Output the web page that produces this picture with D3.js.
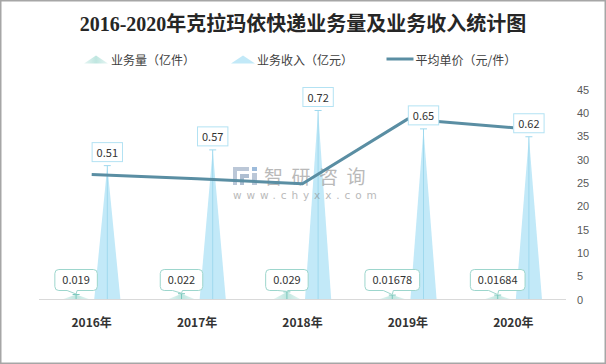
<!DOCTYPE html>
<html><head><meta charset="utf-8">
<script src="https://cdn.jsdelivr.net/npm/d3@7/dist/d3.min.js"></script>
<style>
html,body{margin:0;padding:0;background:#fff;}
svg{display:block;}
</style></head>
<body><svg id="c" width="606" height="364"></svg>
<script>
const categories = ["2016年","2017年","2018年","2019年","2020年"];
const volume = [0.019, 0.022, 0.029, 0.01678, 0.01684];      // 业务量（亿件）
const revenue = [0.51, 0.57, 0.72, 0.65, 0.62];              // 业务收入（亿元）
const unitPrice = [26.8, 25.9, 24.8, 38.7, 36.8];            // 平均单价（元/件）
const volumeLabels = ["0.019","0.022","0.029","0.01678","0.01684"];
const revenueLabels = ["0.51","0.57","0.72","0.65","0.62"];
const rightTicks = [0,5,10,15,20,25,30,35,40,45];
const seriesKeys = ["volume","revenue"];
const legendNames = ["业务量（亿件）","业务收入（亿元）","平均单价（元/件）"];
const title = "2016-2020年克拉玛依快递业务量及业务收入统计图";

const svg = d3.select("#c");
const W = 606, H = 364;
const FONT = "'Noto Sans CJK SC','Noto Sans',sans-serif";
const lineColor = "#5a8ea3";
const revColor = "#c2e9f8";

const defs = svg.append("defs");
const g1 = defs.append("linearGradient").attr("id","volGrad").attr("x1","0").attr("x2","1").attr("y1","0").attr("y2","0");
g1.append("stop").attr("offset","0%").attr("stop-color","#e6f5f3");
g1.append("stop").attr("offset","50%").attr("stop-color","#bfe6e0");
g1.append("stop").attr("offset","100%").attr("stop-color","#e6f5f3");

svg.append("rect").attr("width",W).attr("height",H).attr("fill","#fff");

const x = d3.scaleBand().domain(categories).range([39,566]);
const sub = d3.scaleBand().domain(seriesKeys).range([-31.2,31.2]);
const yL = d3.scaleLinear().domain([0,0.8]).range([299.5,89.5]);
const yR = d3.scaleLinear().domain([0,45]).range([299.5,89.5]);
const cx = c => x(c) + x.bandwidth()/2;
const sx = (c,k) => cx(c) + sub(k) + sub.bandwidth()/2;
const bw = sub.bandwidth()*0.84;

// title
svg.append("text").attr("x",303).attr("y",31).attr("text-anchor","middle")
  .attr("font-family","'Liberation Serif','Noto Sans CJK SC',serif").attr("font-weight","bold")
  .attr("font-size",20).attr("fill","#262626").text(title);

// legend
const lg = svg.append("g").attr("font-family",FONT).attr("font-size",12).attr("fill","#404040");
function tri(xc, yb, w, h){ return `M${xc-w/2},${yb}L${xc},${yb-h}L${xc+w/2},${yb}Z`; }
lg.append("path").attr("d",tri(96,63.5,24,8)).attr("fill","url(#volGrad)");
lg.append("text").attr("x",111).attr("y",64.5).text(legendNames[0]);
lg.append("path").attr("d",tri(243,63.5,24,8)).attr("fill",revColor);
lg.append("text").attr("x",257).attr("y",64.5).text(legendNames[1]);
lg.append("line").attr("x1",386.5).attr("x2",413.5).attr("y1",59).attr("y2",59).attr("stroke",lineColor).attr("stroke-width",3);
lg.append("text").attr("x",415.5).attr("y",64.5).text(legendNames[2]);

// revenue spikes
const revG = svg.append("g");
categories.forEach((c,i)=>{
  const xc = sx(c,"revenue"), yt = yL(revenue[i]), yb = yL(0);
  revG.append("path").attr("d",tri(xc,yb,bw,yb-yt)).attr("fill",revColor);
  revG.append("line").attr("x1",xc).attr("x2",xc).attr("y1",yt).attr("y2",yb).attr("stroke","#9fd9ee").attr("stroke-width",1);
  revG.append("line").attr("x1",xc-3.5).attr("x2",xc+3.5).attr("y1",yt).attr("y2",yt).attr("stroke","#9fd9ee").attr("stroke-width",1);
});
// volume spikes
const volG = svg.append("g");
categories.forEach((c,i)=>{
  const xc = sx(c,"volume"), yt = yL(volume[i]), yb = yL(0);
  volG.append("path").attr("d",tri(xc,yb,bw+2,yb-yt)).attr("fill","url(#volGrad)");
  volG.append("line").attr("x1",xc).attr("x2",xc).attr("y1",yt).attr("y2",yb).attr("stroke","#7cc8bd").attr("stroke-width",1);
  volG.append("line").attr("x1",xc-3.5).attr("x2",xc+3.5).attr("y1",yt).attr("y2",yt).attr("stroke","#7cc8bd").attr("stroke-width",1);
});

// baseline
svg.append("line").attr("x1",39).attr("x2",566).attr("y1",299.5).attr("y2",299.5).attr("stroke","#d9d9d9").attr("stroke-width",1);

// watermark
const wm = svg.append("g").attr("opacity",0.6);
wm.append("path").attr("d","M233,167h16v4h-12v14h-4Z").attr("fill","#8fa3bd");
wm.append("path").attr("d","M240,174h9v4h-5v7h-4Z").attr("fill","#7a93b3");
wm.append("rect").attr("x",252).attr("y",167).attr("width",5).attr("height",4).attr("fill","#5d8fc4");
wm.append("rect").attr("x",252).attr("y",173).attr("width",5).attr("height",12).attr("fill","#8fa3bd");
wm.append("text").attr("x",264).attr("y",184).attr("font-family",FONT).attr("font-size",19)
  .attr("letter-spacing","8.5px").attr("fill","#8c8c8c").text("智研咨询");
wm.append("text").attr("x",233).attr("y",199).attr("font-family","'DejaVu Sans',sans-serif").attr("font-size",10.5)
  .attr("letter-spacing","4.9px").attr("fill","#8c8c8c").text("www.chyxx.com");

// price line
const line = d3.line().x((d,i)=>cx(categories[i])).y(d=>yR(d));
svg.append("path").datum(unitPrice).attr("d",line).attr("fill","none")
  .attr("stroke",lineColor).attr("stroke-width",3).attr("stroke-linejoin","round");

// revenue labels
const rl = svg.append("g").attr("font-family",FONT).attr("font-size",11).attr("fill","#333");
categories.forEach((c,i)=>{
  const xc = sx(c,"revenue"), yt = yL(revenue[i]);
  const t = rl.append("text").attr("x",xc).attr("y",yt-9).attr("text-anchor","middle").text(revenueLabels[i]);
  const w = t.node().getComputedTextLength() + 9;
  rl.insert("rect","text").attr("x",xc-w/2).attr("y",yt-23).attr("width",w).attr("height",19)
    .attr("fill","#fff").attr("stroke","#b3e2f3").attr("stroke-width",1);
});

// volume callouts
const vl = svg.append("g").attr("font-family",FONT).attr("font-size",11).attr("fill","#333");
categories.forEach((c,i)=>{
  const xc = sx(c,"volume");
  const top = 269.5, h = 21, bot = top+h, r = 4;
  const t = vl.append("text").attr("x",xc).attr("y",top+14.5).attr("text-anchor","middle").text(volumeLabels[i]);
  const w = t.node().getComputedTextLength() + 15;
  const L = xc - w/2, R = xc + w/2;
  const tipY = yL(volume[i]) - 0.5;
  const a = xc - 9, b = xc + 1;
  const d = `M${L+r},${top}H${R-r}Q${R},${top} ${R},${top+r}V${bot-r}Q${R},${bot} ${R-r},${bot}`+
            `H${b}L${xc},${tipY}L${a},${bot}H${L+r}Q${L},${bot} ${L},${bot-r}V${top+r}Q${L},${top} ${L+r},${top}Z`;
  vl.insert("path","text").attr("d",d).attr("fill","#fff").attr("stroke","#9dd6cd").attr("stroke-width",1);
});

// x axis labels
const xa = svg.append("g").attr("transform","translate(0,299.5)")
  .call(d3.axisBottom(x).tickSize(0).tickPadding(0));
xa.select(".domain").remove();
xa.selectAll("text").attr("y",27).attr("dy",0).attr("font-family",FONT).attr("font-size",12)
  .attr("font-weight","bold").attr("fill","#333");

// right axis
const ya = svg.append("g").attr("transform","translate(577,0)")
  .call(d3.axisRight(yR).tickValues(rightTicks).tickSize(0).tickPadding(0));
ya.select(".domain").remove();
ya.selectAll("text").attr("font-family","'Liberation Sans',sans-serif").attr("font-size",11).attr("fill","#595959");

// outer border
svg.append("rect").attr("x",0.75).attr("y",0.75).attr("width",W-1.5).attr("height",H-1.5)
  .attr("fill","none").attr("stroke","#a6a6a6").attr("stroke-width",1.5);
</script></body></html>
